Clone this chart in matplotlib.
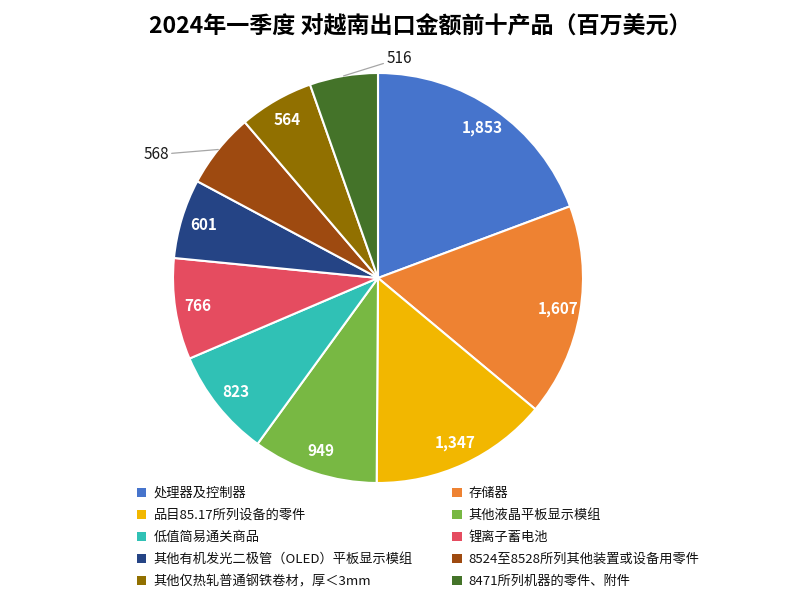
import matplotlib
matplotlib.use("Agg")
import matplotlib.pyplot as plt
from matplotlib.patches import Patch
import numpy as np

plt.rcParams['font.family'] = ['Noto Sans CJK SC', 'DejaVu Sans']

title = "2024年一季度 对越南出口金额前十产品（百万美元）"
categories = ["处理器及控制器", "存储器", "品目85.17所列设备的零件", "其他液晶平板显示模组",
              "低值简易通关商品", "锂离子蓄电池", "其他有机发光二极管（OLED）平板显示模组",
              "8524至8528所列其他装置或设备用零件", "其他仅热轧普通钢铁卷材，厚＜3mm",
              "8471所列机器的零件、附件"]
values = [1853, 1607, 1347, 949, 823, 766, 601, 568, 564, 516]
colors = ["#4674CC", "#EE8232", "#F2B700", "#78B843", "#30C1B5", "#E54C60",
          "#254485", "#9E4A10", "#917000", "#447329"]
outside = [False, False, False, False, False, False, False, True, False, True]

W, H = 801, 589
fig = plt.figure(figsize=(W / 100, H / 100), dpi=100)
cx, cy, r = 378, 278, 205
ax = fig.add_axes([(cx - r) / W, (H - cy - r) / H, 2 * r / W, 2 * r / H])

wedges, _ = ax.pie(values, colors=colors, startangle=90, counterclock=False, radius=1,
                   wedgeprops=dict(edgecolor='white', linewidth=1.5))
ax.set_xlim(-1, 1)
ax.set_ylim(-1, 1)
ax.set_aspect('equal')
ax.axis('off')

for w, v, out in zip(wedges, values, outside):
    ang = np.deg2rad((w.theta1 + w.theta2) / 2)
    x, y = np.cos(ang), np.sin(ang)
    txt = f"{v:,}"
    if not out:
        ax.text(0.89 * x, 0.89 * y, txt, ha='center', va='center', color='white',
                fontsize=11, fontweight='bold')
    else:
        if y < 0.9:
            tx, ty, ha = -1.02, y - 0.025, 'right'
        else:
            tx, ty, ha = 0.04, 1.07, 'left'
        ax.annotate(txt, xy=(x, y), xytext=(tx, ty), ha=ha, va='center',
                    fontsize=11, color='#1a1a1a', annotation_clip=False,
                    arrowprops=dict(arrowstyle='-', color='#A6A6A6', lw=0.9,
                                    shrinkA=0, shrinkB=0))

fig.text(420 / W, 1 - 26 / H, title, ha='center', va='center', fontsize=16.6,
         fontweight='bold', color='black')

handles = [Patch(facecolor=c, edgecolor='none') for c in colors]
order = [0, 2, 4, 6, 8, 1, 3, 5, 7, 9]
leg = fig.legend([handles[i] for i in order], [categories[i] for i in order],
                 ncol=2, loc='upper left', bbox_to_anchor=(137 / W, 1 - 487 / H),
                 frameon=False, fontsize=9.5, handlelength=0.7, handleheight=0.7,
                 handletextpad=0.55, columnspacing=3.0, labelspacing=0.68,
                 borderaxespad=0, borderpad=0)
for t in leg.get_texts():
    t.set_color('#111111')

fig.savefig("out.png", dpi=100)
